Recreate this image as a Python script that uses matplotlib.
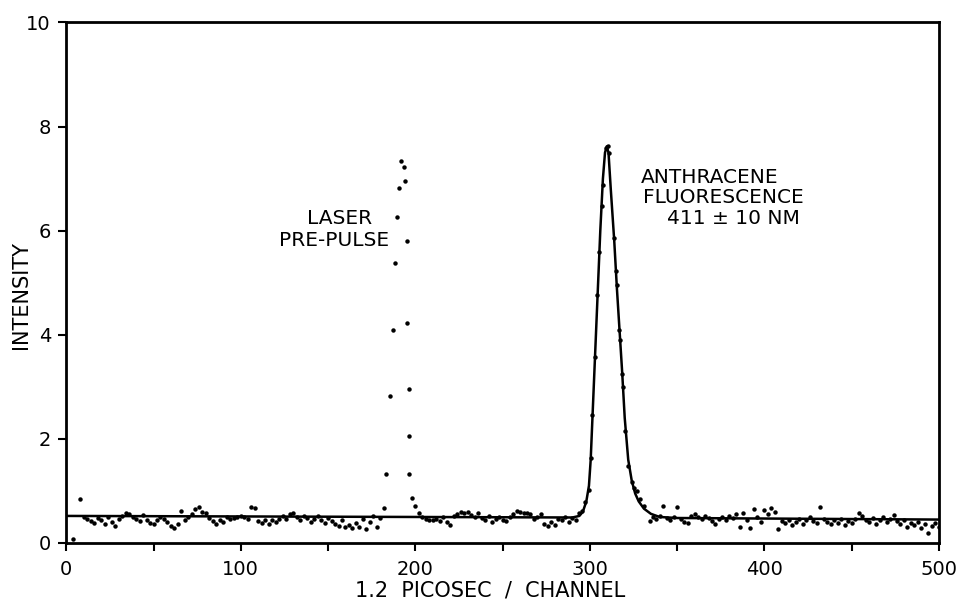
import matplotlib
matplotlib.use("Agg")
import matplotlib.pyplot as plt

plt.rcParams['font.family'] = ['DejaVu Sans']

# baseline channels before the laser pre-pulse
base1_x = [4, 8, 10, 12, 14, 16, 18, 20, 22, 24, 26, 28, 30, 32, 34, 36, 38, 40,
           42, 44, 46, 48, 50, 52, 54, 56, 58, 60, 62, 64, 66, 68, 70, 72, 74, 76,
           78, 80, 82, 84, 86, 88, 90, 92, 94, 96, 98, 100, 102, 104, 106, 108, 110,
           112, 114, 116, 118, 120, 122, 124, 126, 128, 130, 132, 134, 136, 138, 140,
           142, 144, 146, 148, 150, 152, 154, 156, 158, 160, 162, 164, 166, 168, 170,
           172, 174, 176, 178, 180, 182]
base1_y = [0.08, 0.84, 0.50, 0.46, 0.42, 0.38, 0.48, 0.44, 0.36, 0.50, 0.40, 0.33,
           0.47, 0.52, 0.58, 0.55, 0.50, 0.47, 0.42, 0.53, 0.45, 0.38, 0.36, 0.44,
           0.50, 0.47, 0.40, 0.33, 0.28, 0.36, 0.62, 0.44, 0.50, 0.55, 0.66, 0.70,
           0.60, 0.57, 0.48, 0.42, 0.37, 0.44, 0.40, 0.50, 0.46, 0.48, 0.50, 0.51,
           0.49, 0.47, 0.70, 0.68, 0.42, 0.38, 0.45, 0.36, 0.44, 0.40, 0.47, 0.52,
           0.46, 0.55, 0.57, 0.50, 0.44, 0.52, 0.48, 0.40, 0.46, 0.52, 0.44, 0.38,
           0.48, 0.42, 0.36, 0.32, 0.44, 0.30, 0.35, 0.28, 0.38, 0.30, 0.46, 0.26,
           0.40, 0.52, 0.30, 0.48, 0.68]

# laser pre-pulse points
pulse_x = [183.4, 185.4, 187.1, 188.3, 189.7, 190.7, 191.7, 193.6, 194.2, 195.1,
           195.1, 196.4, 196.6, 196.6]
pulse_y = [1.32, 2.82, 4.10, 5.38, 6.26, 6.82, 7.34, 7.22, 6.95, 5.81, 4.22, 2.95,
           2.05, 1.32]

# baseline between pre-pulse and fluorescence
base2_x = [198, 200, 202, 204, 206, 208, 210, 212, 214, 216, 218, 220, 222, 224,
           226, 228, 230, 232, 234, 236, 238, 240, 242, 244, 246, 248, 250, 252,
           254, 256, 258, 260, 262, 264, 266, 268, 270, 272, 274, 276, 278, 280,
           282, 284, 286, 288, 290, 292]
base2_y = [0.87, 0.72, 0.58, 0.50, 0.46, 0.44, 0.45, 0.47, 0.43, 0.50, 0.40, 0.35,
           0.52, 0.56, 0.60, 0.58, 0.60, 0.54, 0.50, 0.58, 0.48, 0.44, 0.52, 0.40,
           0.46, 0.50, 0.45, 0.42, 0.50, 0.55, 0.62, 0.60, 0.57, 0.58, 0.55, 0.46,
           0.50, 0.55, 0.36, 0.32, 0.40, 0.34, 0.46, 0.44, 0.50, 0.40, 0.48, 0.45]

# anthracene fluorescence points
peak_x = [294.0, 295.7, 297.3, 299.7, 300.5, 301.4, 303.0, 304.3, 305.4, 306.8,
          307.4, 309.2, 310.2, 311.0, 313.9, 315.0, 315.4, 316.9, 317.3, 318.3,
          319.2, 320.3, 322.1, 324.0, 325.3, 327.2, 329.0, 331.0, 334.5]
peak_y = [0.58, 0.62, 0.78, 1.01, 1.64, 2.45, 3.57, 4.76, 5.59, 6.48, 6.87, 7.58,
          7.62, 7.50, 5.86, 5.22, 4.95, 4.09, 3.90, 3.24, 3.00, 2.15, 1.48, 1.17,
          1.06, 0.99, 0.84, 0.72, 0.42]

# baseline after the fluorescence
base3_x = [336, 338, 340, 342, 344, 346, 348, 350, 352, 354, 356, 358, 360, 362,
           364, 366, 368, 370, 372, 374, 376, 378, 380, 382, 384, 386, 388, 390,
           392, 394, 396, 398, 400, 402, 404, 406, 408, 410, 412, 414, 416, 418,
           420, 422, 424, 426, 428, 430, 432, 434, 436, 438, 440, 442, 444, 446,
           448, 450, 452, 454, 456, 458, 460, 462, 464, 466, 468, 470, 472, 474,
           476, 478, 480, 482, 484, 486, 488, 490, 492, 494, 496, 498, 500]
base3_y = [0.50, 0.47, 0.52, 0.72, 0.48, 0.45, 0.50, 0.70, 0.46, 0.40, 0.38, 0.52,
           0.55, 0.50, 0.46, 0.52, 0.48, 0.42, 0.36, 0.47, 0.50, 0.45, 0.52, 0.48,
           0.55, 0.30, 0.58, 0.45, 0.28, 0.66, 0.50, 0.40, 0.64, 0.55, 0.68, 0.60,
           0.26, 0.42, 0.38, 0.45, 0.35, 0.40, 0.47, 0.36, 0.44, 0.50, 0.42, 0.38,
           0.70, 0.46, 0.40, 0.36, 0.44, 0.38, 0.47, 0.34, 0.42, 0.38, 0.46, 0.57,
           0.52, 0.44, 0.40, 0.48, 0.36, 0.44, 0.50, 0.40, 0.46, 0.54, 0.42, 0.36,
           0.44, 0.30, 0.38, 0.34, 0.40, 0.28, 0.36, 0.20, 0.32, 0.38, 0.30]

# fitted curve
fit_x = [0, 100, 200, 290, 294, 296, 298, 299.5, 300.5, 301.5, 303, 304.5, 306,
         307.5, 308.7, 309.7, 310.7, 312, 314, 315.5, 317, 318.5, 320, 322, 324,
         326, 328, 331, 335, 340, 350, 500]
fit_y = [0.52, 0.51, 0.50, 0.49, 0.52, 0.60, 0.80, 1.10, 1.60, 2.40, 3.60, 4.80,
         6.00, 7.00, 7.50, 7.62, 7.50, 6.80, 5.80, 4.90, 4.10, 3.30, 2.40, 1.60,
         1.20, 0.95, 0.80, 0.66, 0.56, 0.50, 0.48, 0.45]

fig = plt.figure(figsize=(9.6, 5.99), dpi=100)
ax = fig.add_axes([0.069, 0.0935, 0.909, 0.869])

ax.plot(fit_x, fit_y, '-', color='black', lw=1.8)
for xs, ys in [(base1_x, base1_y), (pulse_x, pulse_y), (base2_x, base2_y),
               (peak_x, peak_y), (base3_x, base3_y)]:
    ax.plot(xs, ys, 'o', color='black', markersize=3.2, markeredgewidth=0)

ax.set_xlim(0, 500)
ax.set_ylim(0, 10)
ax.set_xticks([0, 100, 200, 300, 400, 500])
ax.set_xticks([50, 150, 250, 350, 450], minor=True)
ax.set_yticks([0, 2, 4, 6, 8, 10])
ax.tick_params(axis='both', direction='out', width=1.5, labelsize=14)
ax.tick_params(axis='x', length=6, pad=6)
ax.tick_params(axis='x', which='minor', length=6, width=1.5)
ax.tick_params(axis='y', length=6, pad=5)
for s in ax.spines.values():
    s.set_linewidth(2)

fig.text(0.022, 0.507, 'INTENSITY', rotation=90, ha='center', va='center', fontsize=15)
fig.text(0.511, 0.015, '1.2  PICOSEC  /  CHANNEL', ha='center', va='center', fontsize=15)

ax.text(175, 6.24, 'LASER', ha='right', va='center', fontsize=14.5)
ax.text(185, 5.82, 'PRE-PULSE', ha='right', va='center', fontsize=14.5)
ax.text(329.5, 7.02, 'ANTHRACENE', ha='left', va='center', fontsize=14.5)
ax.text(330.5, 6.63, 'FLUORESCENCE', ha='left', va='center', fontsize=14.5)
ax.text(344, 6.23, '411 ± 10 NM', ha='left', va='center', fontsize=14.5)

fig.savefig('out.png', dpi=100, facecolor='white')
